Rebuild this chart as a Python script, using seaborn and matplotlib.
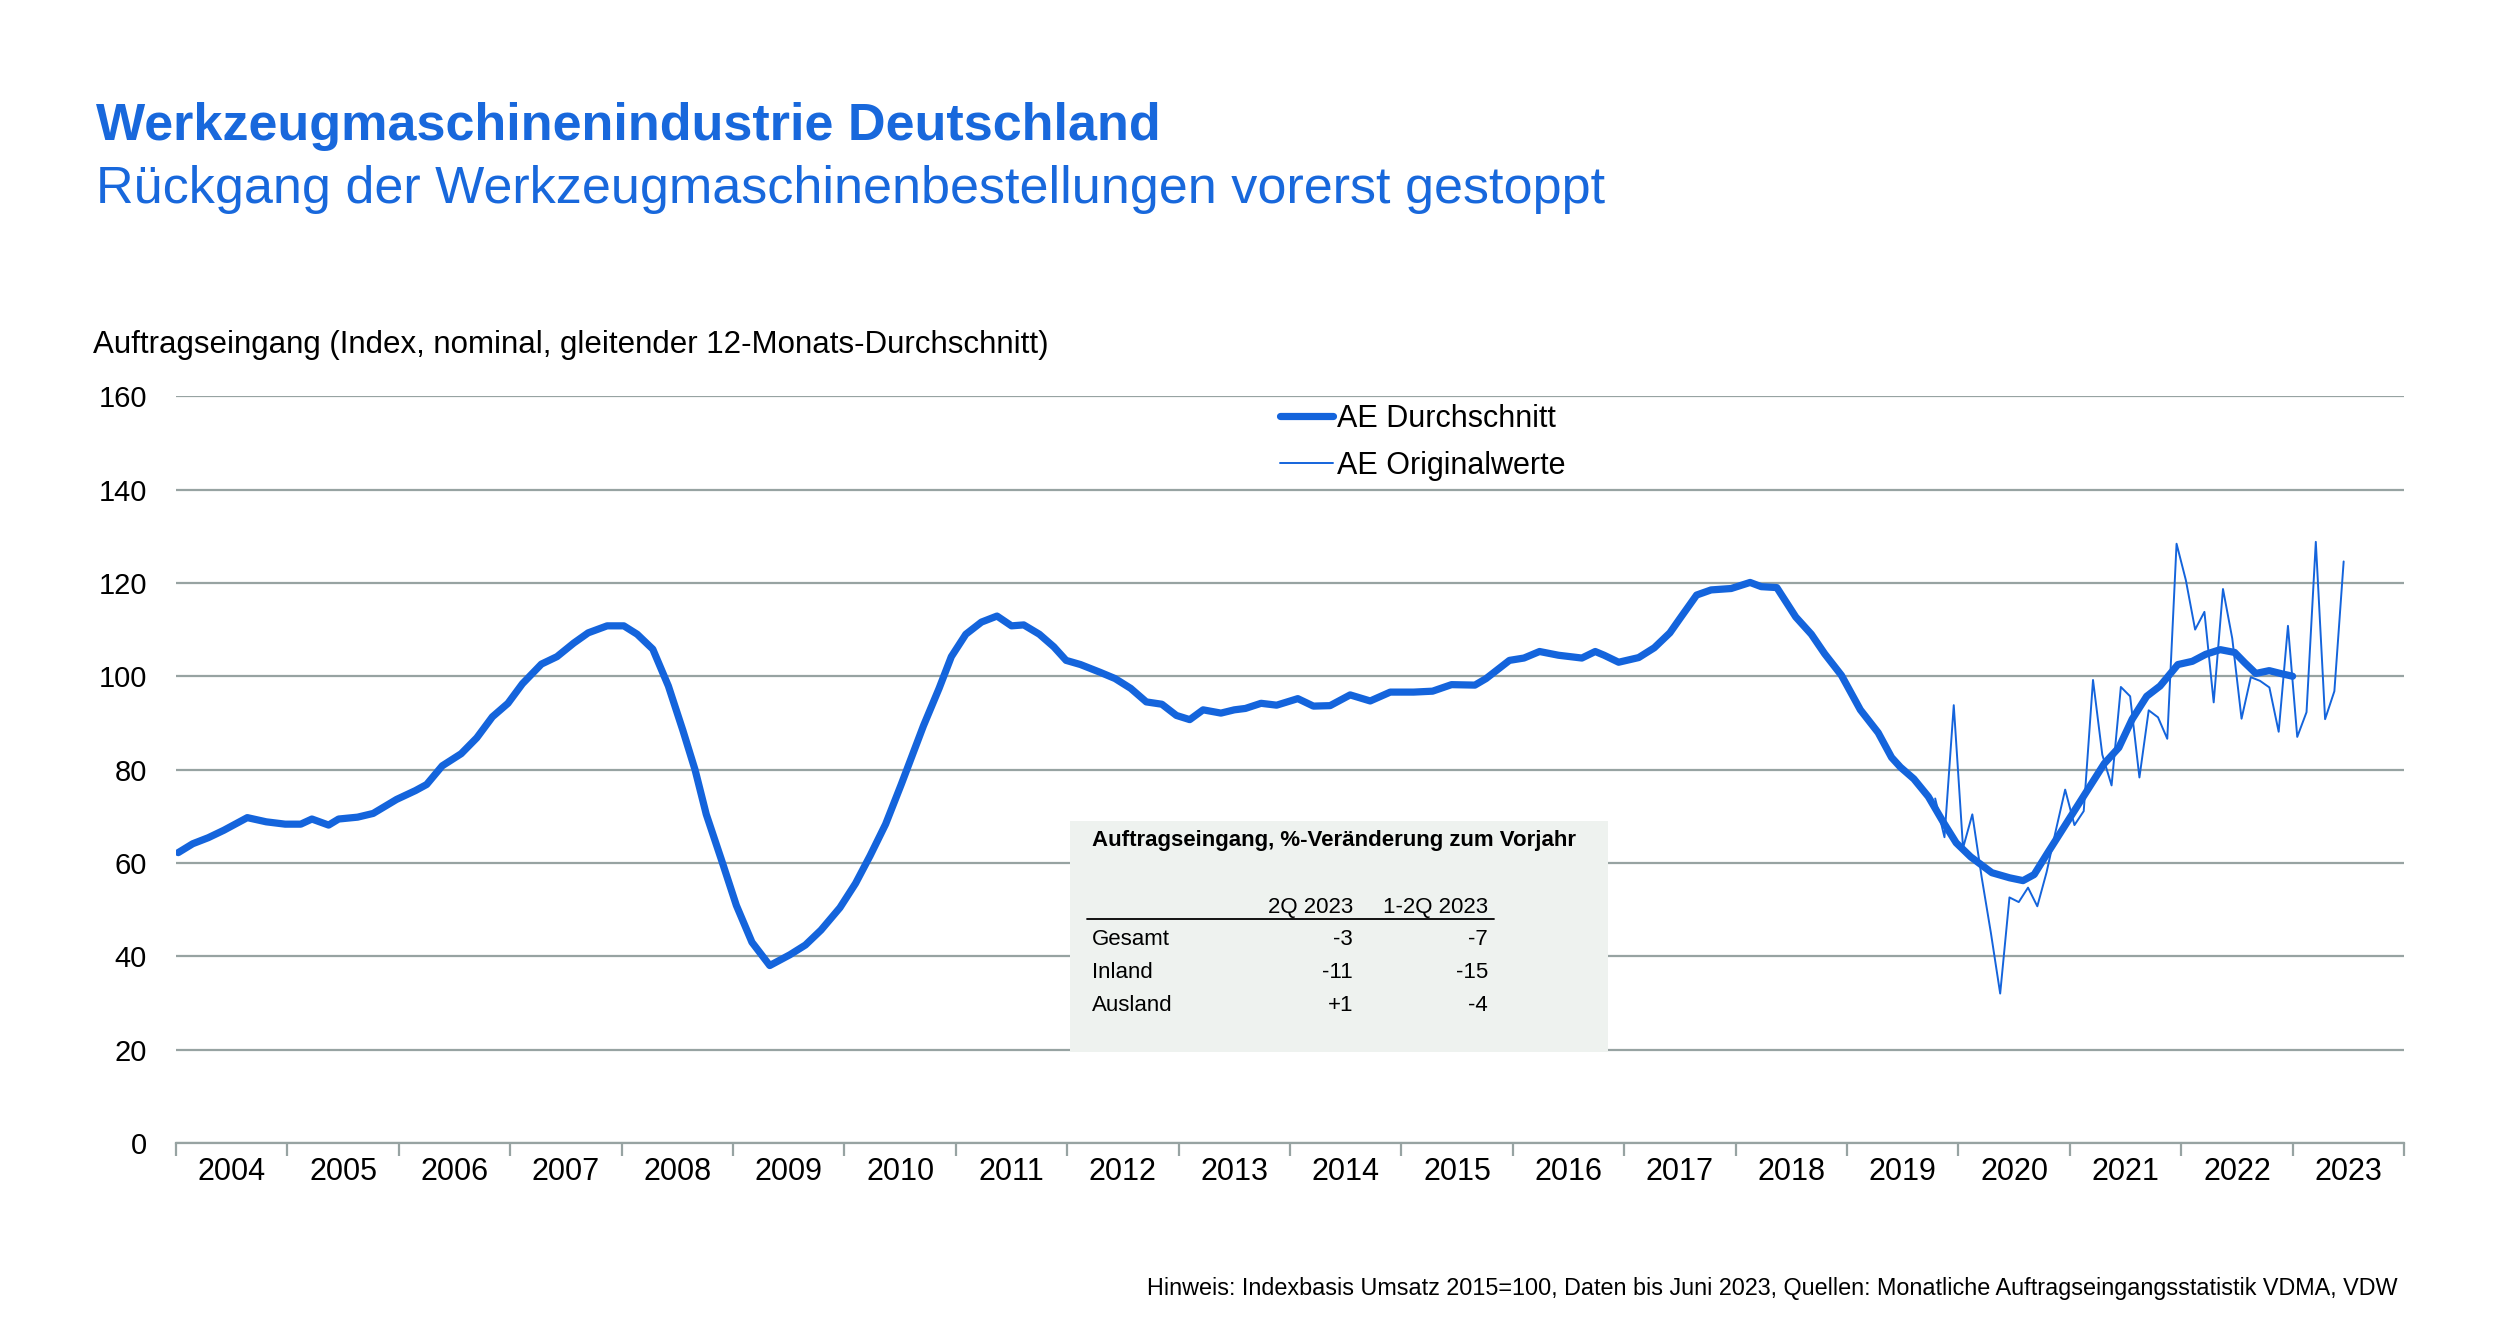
import numpy as np
import pandas as pd
import matplotlib
matplotlib.use("Agg")
import matplotlib.pyplot as plt
import seaborn as sns
from matplotlib.patches import Rectangle
from matplotlib.lines import Line2D

sns.set_theme(style="whitegrid")
plt.rcParams["font.family"] = ["Liberation Sans", "DejaVu Sans"]

BLUE = "#1464dc"
TITLE_BLUE = "#1868dc"
GRID = "#97a3a2"

# 12-month moving average (decimal year, index value)
avg_t = [2004.02, 2004.15, 2004.29, 2004.43, 2004.64, 2004.81, 2004.98, 2005.12, 2005.22, 2005.37,
         2005.46, 2005.63, 2005.77, 2005.98, 2006.15, 2006.25, 2006.39, 2006.56, 2006.70, 2006.84,
         2006.98, 2007.11, 2007.28, 2007.42, 2007.57, 2007.70, 2007.87, 2008.02, 2008.14, 2008.28,
         2008.42, 2008.55, 2008.66, 2008.76, 2008.90, 2009.03, 2009.17, 2009.33, 2009.51, 2009.65,
         2009.79, 2009.96, 2010.10, 2010.23, 2010.37, 2010.51, 2010.61, 2010.71, 2010.85, 2010.96,
         2011.09, 2011.23, 2011.37, 2011.50, 2011.61, 2011.75, 2011.88, 2011.99, 2012.12, 2012.30,
         2012.43, 2012.57, 2012.71, 2012.85, 2012.98, 2013.10, 2013.22, 2013.38, 2013.50, 2013.60,
         2013.74, 2013.88, 2014.07, 2014.21, 2014.36, 2014.54, 2014.72, 2014.90, 2015.11, 2015.28,
         2015.45, 2015.66, 2015.76, 2015.97, 2016.10, 2016.24, 2016.41, 2016.62, 2016.74, 2016.82,
         2016.95, 2017.13, 2017.27, 2017.41, 2017.51, 2017.65, 2017.78, 2017.96, 2018.13, 2018.23,
         2018.37, 2018.54, 2018.68, 2018.80, 2018.95, 2019.12, 2019.28, 2019.40, 2019.48, 2019.60,
         2019.73, 2019.86, 2019.98, 2020.11, 2020.30, 2020.46, 2020.58, 2020.68, 2020.80, 2020.93,
         2021.06, 2021.18, 2021.31, 2021.44, 2021.56, 2021.69, 2021.81, 2021.97, 2022.10, 2022.22,
         2022.35, 2022.48, 2022.57, 2022.67, 2022.79, 2022.89, 2023.00]
avg_v = [62.2, 64.1, 65.4, 67.0, 69.7, 68.8, 68.3, 68.3, 69.4, 68.1,
         69.4, 69.8, 70.6, 73.6, 75.5, 76.8, 80.8, 83.4, 86.8, 91.3,
         94.2, 98.4, 102.6, 104.2, 107.1, 109.3, 110.8, 110.8, 109.0, 105.8,
         97.9, 88.4, 79.9, 70.4, 60.4, 50.9, 43.0, 38.0, 40.3, 42.4,
         45.6, 50.4, 55.6, 61.5, 68.3, 76.8, 83.1, 89.4, 97.4, 104.2,
         109.0, 111.6, 112.9, 110.8, 111.0, 109.0, 106.3, 103.4, 102.5, 100.8,
         99.5, 97.4, 94.5, 94.0, 91.6, 90.7, 92.8, 92.1, 92.8, 93.1,
         94.2, 93.8, 95.2, 93.6, 93.7, 96.0, 94.7, 96.6, 96.6, 96.8,
         98.2, 98.1, 99.5, 103.4, 103.9, 105.3, 104.5, 103.9, 105.3, 104.5,
         103.0, 104.0, 106.1, 109.3, 112.7, 117.4, 118.5, 118.8, 120.1, 119.2,
         119.0, 112.7, 109.0, 104.8, 100.2, 92.8, 87.9, 82.6, 80.5, 78.0,
         74.2, 68.9, 64.3, 61.3, 57.9, 56.8, 56.2, 57.5, 62.1, 67.0,
         71.9, 76.4, 81.3, 84.7, 90.8, 95.7, 97.9, 102.5, 103.2, 104.7,
         105.7, 105.1, 102.9, 100.6, 101.2, 100.6, 100.0]

# monthly original values, Oct 2019 - Jun 2023
orig_start = "2019-10-01"
orig_v = [73.8, 65.5, 93.8,
          63.2, 70.4, 57.0, 45.0, 32.0, 52.6, 51.6, 54.7, 50.7, 58.0, 67.0, 75.7,
          68.1, 71.1, 99.2, 83.2, 76.6, 97.7, 95.7, 78.3, 92.7, 91.2, 86.6, 128.4,
          120.6, 110.0, 113.8, 94.4, 118.7, 108.1, 90.9, 99.8, 99.0, 97.6, 88.1, 110.8,
          87.0, 92.3, 128.8, 90.8, 96.8, 124.6]

years = list(range(2004, 2024))

tab_cols = ["2Q 2023", "1-2Q 2023"]
tab_rows = ["Gesamt", "Inland", "Ausland"]
tab_q2 = ["-3", "-11", "+1"]
tab_h1 = ["-7", "-15", "-4"]

avg = pd.DataFrame({"t": avg_t, "v": avg_v})
d = pd.date_range(orig_start, periods=len(orig_v), freq="MS")
orig = pd.DataFrame({"t": d.year + (d.month - 0.5) / 12, "v": orig_v})

fig = plt.figure(figsize=(25, 13.32), dpi=100)
ax = fig.add_axes([0.0704, 0.1420, 0.8912, 0.5605])

sns.lineplot(data=orig, x="t", y="v", ax=ax, color=BLUE, lw=1.4,
             label="AE Originalwerte", sort=False, zorder=3)
sns.lineplot(data=avg, x="t", y="v", ax=ax, color=BLUE, lw=5.2,
             label="AE Durchschnitt", sort=False, zorder=4,
             solid_capstyle="round")

ax.set_xlim(2004, 2024)
ax.set_ylim(0, 160)
ax.set_yticks(range(0, 161, 20))
ax.set_xlabel("")
ax.set_ylabel("")

ax.xaxis.grid(False)
ax.yaxis.grid(True, color=GRID, lw=1.6)
for s in ["top", "right", "left"]:
    ax.spines[s].set_visible(False)
ax.spines["bottom"].set_color(GRID)
ax.spines["bottom"].set_linewidth(1.6)

ax.set_xticks(range(2004, 2025))
ax.set_xticklabels([])
ax.set_xticks(np.arange(2004.5, 2024, 1), minor=True)
ax.set_xticklabels([str(y) for y in years], minor=True)
ax.tick_params(axis="x", which="major", bottom=True, length=9, width=1.6,
               color=GRID, direction="out")
ax.tick_params(axis="x", which="minor", bottom=True, length=0, pad=10,
               labelsize=22, labelcolor="black")
ax.tick_params(axis="y", length=0, pad=21, labelsize=21, labelcolor="black")

h, l = ax.get_legend_handles_labels()
ax.legend(h[::-1], l[::-1], loc="upper left", bbox_to_anchor=(0.4955, 0.99),
          frameon=False, fontsize=22, handlelength=1.75, handletextpad=0.1,
          labelspacing=0.55, borderaxespad=0, borderpad=0, labelcolor="black")

# titles
fig.text(0.0386, 0.8949, "Werkzeugmaschinenindustrie Deutschland", fontsize=37.5,
         fontweight="bold", color=TITLE_BLUE, va="baseline")
fig.text(0.0386, 0.8476, "Rückgang der Werkzeugmaschinenbestellungen vorerst gestoppt",
         fontsize=37.5, color=TITLE_BLUE, va="baseline")
fig.text(0.0372, 0.735, "Auftragseingang (Index, nominal, gleitender 12-Monats-Durchschnitt)",
         fontsize=22.5, color="black", va="baseline")
fig.text(0.9592, 0.0278,
         "Hinweis: Indexbasis Umsatz 2015=100, Daten bis Juni 2023, Quellen: "
         "Monatliche Auftragseingangsstatistik VDMA, VDW",
         fontsize=16.8, color="black", ha="right", va="baseline")

# inset table
ax.add_patch(Rectangle((0.428, 0.2102), 0.2152, 0.1734, transform=fig.transFigure,
                       facecolor="#eef2ef", edgecolor="none", zorder=1, clip_on=False))
fig.text(0.4368, 0.3649, "Auftragseingang, %-Veränderung zum Vorjahr", fontsize=16,
         fontweight="bold", color="black", va="baseline")
col_x = [0.5412, 0.5952]
for x, c in zip(col_x, tab_cols):
    fig.text(x, 0.3146, c, fontsize=16, color="black", ha="right", va="baseline")
fig.add_artist(Line2D([0.4348, 0.5976], [0.310, 0.310], transform=fig.transFigure,
                      color="black", lw=1.3))
row_y = [0.2905, 0.2658, 0.2410]
for y, r, a, b in zip(row_y, tab_rows, tab_q2, tab_h1):
    fig.text(0.4368, y, r, fontsize=16, color="black", va="baseline")
    fig.text(col_x[0], y, a, fontsize=16, color="black", ha="right", va="baseline")
    fig.text(col_x[1], y, b, fontsize=16, color="black", ha="right", va="baseline")

fig.savefig("out.png", dpi=100)
